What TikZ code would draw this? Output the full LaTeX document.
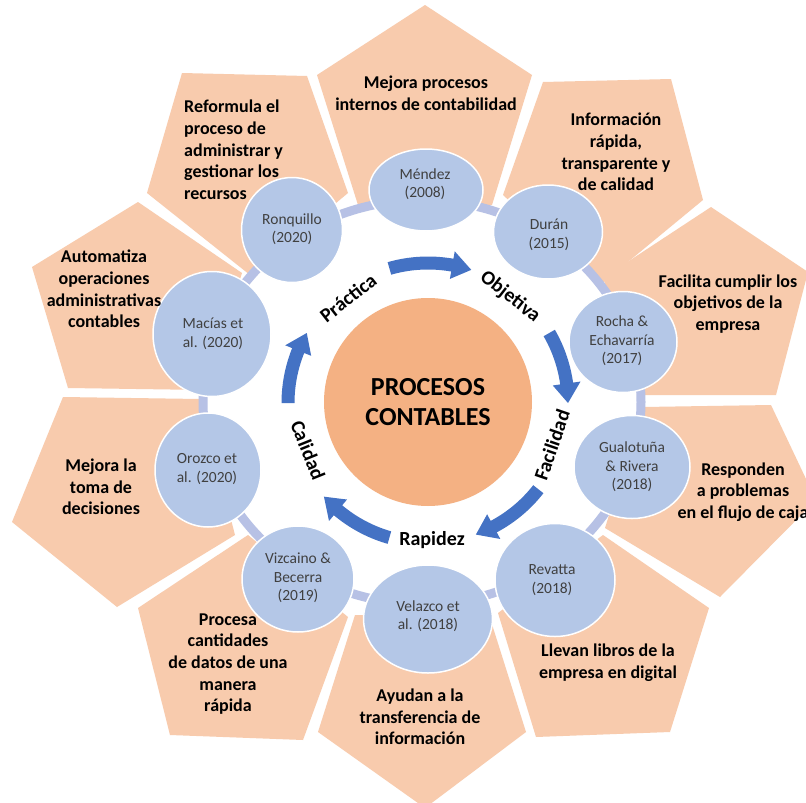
\documentclass[tikz,border=0pt]{standalone}
\usepackage{fontspec}
\setmainfont{Carlito}
\usetikzlibrary{shapes.geometric}
\definecolor{pentfill}{HTML}{F8CBAD}
\definecolor{corefill}{HTML}{F4B183}
\definecolor{citefill}{HTML}{B4C7E7}
\definecolor{ringcol}{HTML}{B7C1E5}
\definecolor{arrowblue}{HTML}{4472C4}
\definecolor{citetxt}{HTML}{404040}
\pgfdeclarelayer{pentlayer}
\pgfdeclarelayer{ringlayer}
\pgfsetlayers{pentlayer,ringlayer,main}
\begin{document}
\begin{tikzpicture}[x=1pt,y=-1pt,
  pent/.style={fill=pentfill},
  penttext/.style={font=\fontsize{18}{21.7}\selectfont\bfseries, align=center, text=black, inner sep=0},
  citebox/.style={ellipse, fill=citefill, draw=white, line width=1.5pt, inner sep=0},
  citetext/.style={font=\fontsize{15.5}{18.5}\selectfont, align=center, text=citetxt, inner sep=0},
  ringline/.style={draw=ringcol, line width=9pt},
  cyclabel/.style={font=\fontsize{20}{24}\selectfont\bfseries, inner sep=0, text=black},
  core/.style={circle, fill=corefill, minimum size=208, inner sep=0, font=\fontsize{26}{30}\selectfont\bfseries, align=center, text=black}
]
\useasboundingbox (0,0) rectangle (806,803);

\begin{pgfonlayer}{pentlayer}
\fill[white] (0,0) rectangle (806,803);
% Mejora procesos (Mendez)
\fill[pent] (425,5) -- (532,75) -- (492,205) -- (358,205) -- (317,75) -- cycle;
% Informacion (Duran)
\fill[pent] (543,82) -- (671,79) -- (703,200) -- (600,285) -- (503,195) -- cycle;
% Facilita (Rocha)
\fill[pent] (711,207) -- (808,272) -- (776,395) -- (645,395) -- (603,278) -- cycle;
% Responden (Gualotuna)
\fill[pent] (643,407) -- (771,405) -- (816,500) -- (720,597) -- (605,528) -- cycle;
% Llevan (Revatta)
\fill[pent] (603,535) -- (709,608) -- (670,732) -- (536,737) -- (498,613) -- cycle;
% Ayudan (Velazco)
\fill[pent] (355,615) -- (490,618) -- (526,732) -- (425,808) -- (318,732) -- cycle;
% Procesa (Vizcaino)
\fill[pent] (248,535) -- (348,617) -- (303,740) -- (170,735) -- (138,608) -- cycle;
% Mejora la toma (Orozco)
\fill[pent] (63,397) -- (200,399) -- (235,535) -- (117,607) -- (12,522) -- cycle;
% Automatiza (Macias)
\fill[pent] (138,202) -- (242,273) -- (205,390) -- (68,388) -- (32,267) -- cycle;
% Reformula (Ronquillo)
\fill[pent] (182,73) -- (307,76) -- (348,193) -- (250,275) -- (147,193) -- cycle;
\end{pgfonlayer}

\coordinate (ringc) at (422,402);
\begin{pgfonlayer}{ringlayer}
\draw[ringline] (ringc) ellipse [x radius=219, y radius=202];
\end{pgfonlayer}

% citation ellipses
\node[citebox, minimum width=114, minimum height=82] (mendez) at (426,190) {};
\node[citebox, minimum width=109, minimum height=94] (duran) at (548,232) {};
\node[citebox, minimum width=108, minimum height=101] (rocha) at (623,342) {};
\node[citebox, minimum width=116, minimum height=103] (gualo) at (632,467) {};
\node[citebox, minimum width=120, minimum height=113] (revatta) at (555,580) {};
\node[citebox, minimum width=129, minimum height=108] (velazco) at (428,619) {};
\node[citebox, minimum width=112, minimum height=106] (vizcaino) at (298,579) {};
\node[citebox, minimum width=106, minimum height=114] (orozco) at (208,470) {};
\node[citebox, minimum width=118, minimum height=125] (macias) at (212,334) {};
\node[citebox, minimum width=101, minimum height=105] (ronquillo) at (292,230) {};

\node[citetext] (tmendez) at (425,184) {Méndez\\(2008)};
\node[citetext] (tduran) at (549,235) {Durán\\(2015)};
\node[citetext] (trocha) at (622,341) {Rocha \&\\Echavarría\\(2017)};
\node[citetext] (tgualo) at (632,467) {Gualotuña\\\& Rivera\\(2018)};
\node[citetext] (trevatta) at (552,580) {Revatta\\(2018)};
\node[citetext] (tvelazco) at (428,616) {Velazco et\\al. (2018)};
\node[citetext] (tvizcaino) at (298,578) {Vizcaino \&\\Becerra\\(2019)};
\node[citetext] (torozco) at (207,469) {Orozco et\\al. (2020)};
\node[citetext] (tmacias) at (213,334) {Macías et\\al. (2020)};
\node[citetext] (tronquillo) at (292,229) {Ronquillo\\(2020)};

% pentagon texts
\node[penttext] (p1) at (426,93) {Mejora procesos\\internos de contabilidad};
\node[penttext] (p2) at (616,152) {Información\\rápida,\\transparente y\\de calidad};
\node[penttext] (p3) at (728,304) {Facilita cumplir los\\objetivos de la\\empresa};
\node[penttext] (p4) at (743,492) {Responden\\a problemas\\en el flujo de caja};
\node[penttext] (p5) at (608,663) {Llevan libros de la\\empresa en digital};
\node[penttext] (p6) at (420,717) {Ayudan a la\\transferencia de\\información};
\node[penttext] (p7) at (228,664) {Procesa\\cantidades\\de datos de una\\manera\\rápida};
\node[penttext] (p8) at (101,487) {Mejora la\\toma de\\decisiones};
\node[penttext] (p9) at (104,289) {Automatiza\\operaciones\\administrativas\\contables};
\node[penttext, align=left, anchor=west] (p10) at (184,150) {Reformula el\\proceso de\\administrar y\\gestionar los\\recursos};

% center
\node[core] (core) at (428,402) {PROCESOS\\CONTABLES};

% cycle arrows
\begin{scope}[shift={(428,403)}]
\foreach \a/\b in {-106/-72, -30/0, 38/70, 106/138, 180/210} {
  \pgfmathsetmacro{\c}{\b-8}
  \fill[arrowblue] plot[domain=\a:\c, samples=24] (\x:146.5) -- (\c:154) -- (\b:140) -- (\c:126)
     -- plot[domain=\c:\a, samples=24] (\x:133.5) -- cycle;
}
\end{scope}

\node[cyclabel, rotate=38] (prac) at (348,298) {Práctica};
\node[cyclabel, rotate=-38] (obj) at (510,297) {Objetiva};
\node[cyclabel, rotate=71] (fac) at (552,445) {Facilidad};
\node[cyclabel] (rap) at (432,540) {Rapidez};
\node[cyclabel, rotate=-68] (cal) at (308,450) {Calidad};
\end{tikzpicture}
\end{document}
